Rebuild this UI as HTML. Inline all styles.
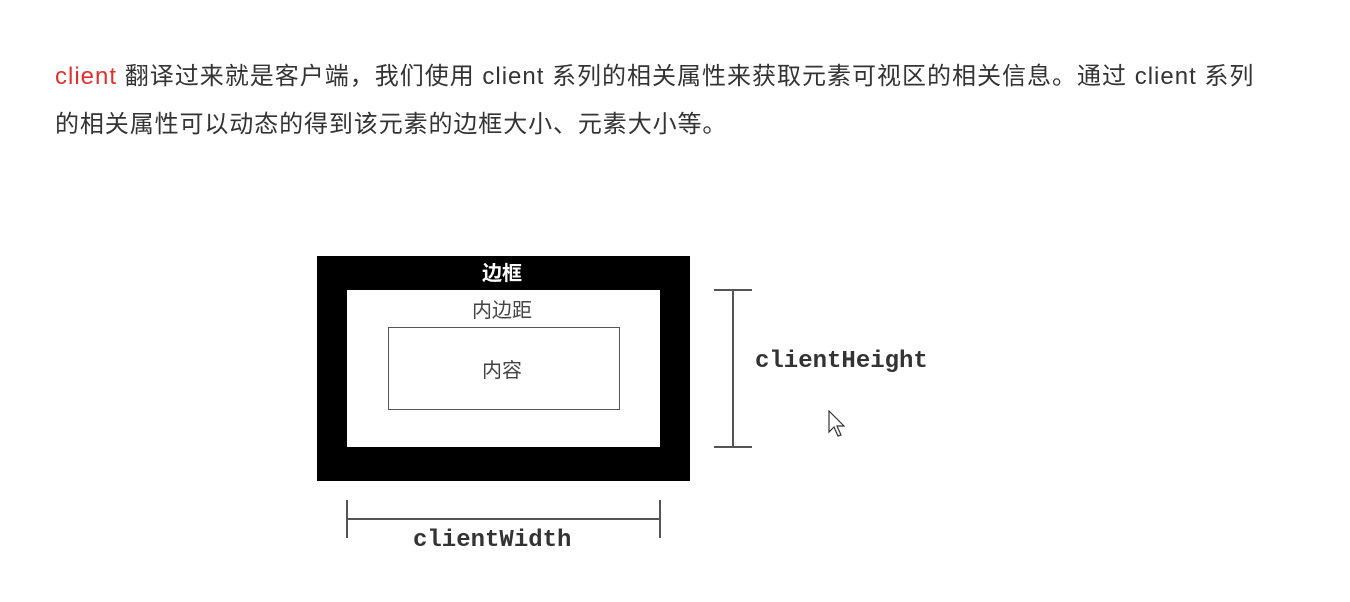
<!DOCTYPE html>
<html><head><meta charset="utf-8"><style>
body{margin:0;width:1350px;height:602px;background:#fff;position:relative;overflow:hidden;font-family:"Liberation Sans","Noto Sans CJK SC",sans-serif}
.t{position:absolute;white-space:nowrap;font-size:24px;color:#333;left:55px;letter-spacing:1px}
.a{position:absolute}
.m{position:absolute;font-family:"Liberation Mono",monospace;font-weight:bold;font-size:24px;color:#333;white-space:nowrap}
.c{position:absolute;font-family:"Noto Sans CJK SC",sans-serif;font-size:20px;transform:translateX(-50%);white-space:nowrap}
</style></head><body>
<div class="t" style="top:56px"><span style="color:#e0322d">client</span> 翻译过来就是客户端，我们使用 client 系列的相关属性来获取元素可视区的相关信息。通过 client 系列</div>
<div class="t" style="top:104px;letter-spacing:0.9px">的相关属性可以动态的得到该元素的边框大小、元素大小等。</div>

<div class="a" style="left:317px;top:256px;width:373px;height:225px;background:#000"></div>
<div class="a" style="left:347px;top:290px;width:313px;height:157px;background:#fff"></div>
<div class="a" style="left:388px;top:327px;width:230px;height:81px;border:1px solid #555"></div>
<div class="c" style="left:502px;top:257px;color:#fff;font-weight:bold">边框</div>
<div class="c" style="left:502px;top:294px;color:#444">内边距</div>
<div class="c" style="left:502px;top:354px;color:#444">内容</div>

<div class="a" style="left:732px;top:290px;width:2px;height:157px;background:#555"></div>
<div class="a" style="left:714px;top:289px;width:38px;height:2px;background:#555"></div>
<div class="a" style="left:714px;top:446px;width:38px;height:2px;background:#555"></div>
<div class="m" style="left:755px;top:348px">clientHeight</div>

<div class="a" style="left:347px;top:518px;width:313px;height:2px;background:#555"></div>
<div class="a" style="left:346px;top:500px;width:2px;height:38px;background:#555"></div>
<div class="a" style="left:659px;top:500px;width:2px;height:38px;background:#555"></div>
<div class="m" style="left:413px;top:527px">clientWidth</div>

<svg class="a" style="left:828px;top:410px" width="20" height="30"><path d="M1 1 L1 22 L6 17 L10 26 L13 25 L9 16 L16 16 Z" fill="#fff" stroke="#333" stroke-width="1.2"/></svg>
</body></html>
